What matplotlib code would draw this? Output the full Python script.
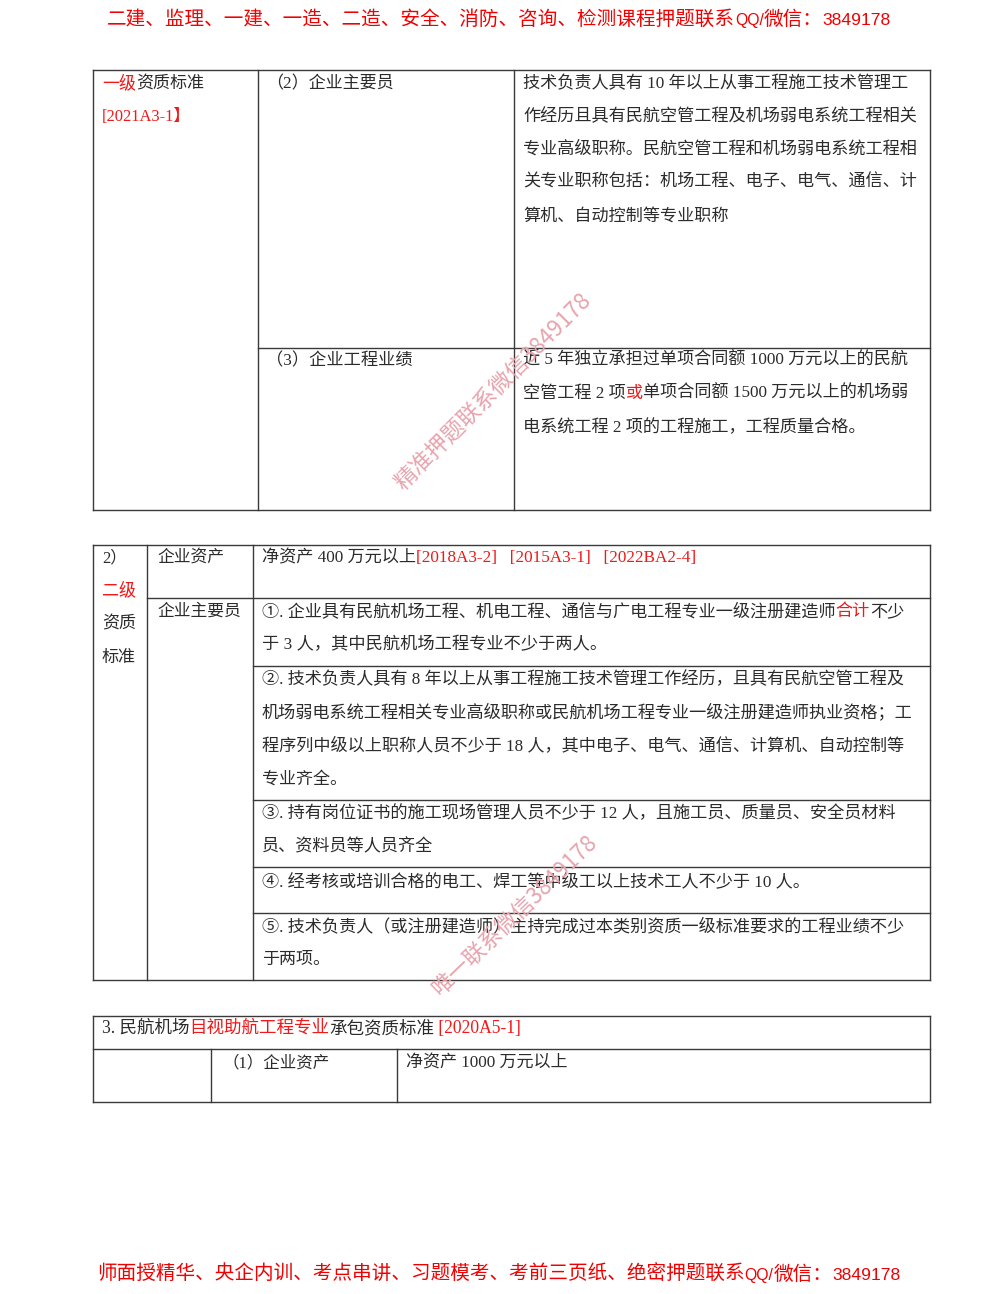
import matplotlib
matplotlib.use('Agg')
import matplotlib.pyplot as plt

FONT = ['Liberation Serif', 'Noto Sans CJK SC', 'DejaVu Sans']
SANS = ['Noto Sans CJK SC', 'DejaVu Sans']
LATIN = ['Liberation Sans', 'DejaVu Sans']
INK = '#2b2b2b'
RED = '#f01818'
WM = '#e8a3ad'

# page texts, k = black, r = red
header_parts = ['二建、监理、一建、一造、二造、安全、消防、咨询、检测课程押题联系', 'QQ/', '微信：', '3849178']
footer_parts = ['师面授精华、央企内训、考点串讲、习题模考、考前三页纸、绝密押题联系', 'QQ/', '微信：', '3849178']
watermark1 = '精准押题联系微信3849178'
watermark2 = '唯一联系微信3849178'

table1_lines = [
    [('一级', 'r'), ('资质标准', 'k')],
    [('[2021A3-1】', 'r')],
    [('（2）企业主要员', 'k')],
    [('技术负责人具有 10 年以上从事工程施工技术管理工', 'k')],
    [('作经历且具有民航空管工程及机场弱电系统工程相关', 'k')],
    [('专业高级职称。民航空管工程和机场弱电系统工程相', 'k')],
    [('关专业职称包括：机场工程、电子、电气、通信、计', 'k')],
    [('算机、自动控制等专业职称', 'k')],
    [('（3）企业工程业绩', 'k')],
    [('近 5 年独立承担过单项合同额 1000 万元以上的民航', 'k')],
    [('空管工程 2 项', 'k'), ('或', 'r'), ('单项合同额 1500 万元以上的机场弱', 'k')],
    [('电系统工程 2 项的工程施工，工程质量合格。', 'k')],
]
table2_lines = [
    [('2）', 'k')],
    [('二级', 'r')],
    [('资质', 'k')],
    [('标准', 'k')],
    [('企业资产', 'k')],
    [('企业主要员', 'k')],
    [('净资产 400 万元以上', 'k'), ('[2018A3-2]   [2015A3-1]   [2022BA2-4]', 'r')],
    [('①. 企业具有民航机场工程、机电工程、通信与广电工程专业一级注册建造师', 'k'), ('合计', 'r'), ('不少', 'k')],
    [('于 3 人，其中民航机场工程专业不少于两人。', 'k')],
    [('②. 技术负责人具有 8 年以上从事工程施工技术管理工作经历，且具有民航空管工程及', 'k')],
    [('机场弱电系统工程相关专业高级职称或民航机场工程专业一级注册建造师执业资格；工', 'k')],
    [('程序列中级以上职称人员不少于 18 人，其中电子、电气、通信、计算机、自动控制等', 'k')],
    [('专业齐全。', 'k')],
    [('③. 持有岗位证书的施工现场管理人员不少于 12 人，且施工员、质量员、安全员材料', 'k')],
    [('员、资料员等人员齐全', 'k')],
    [('④. 经考核或培训合格的电工、焊工等中级工以上技术工人不少于 10 人。', 'k')],
    [('⑤. 技术负责人（或注册建造师）主持完成过本类别资质一级标准要求的工程业绩不少', 'k')],
    [('于两项。', 'k')],
]
table3_lines = [
    [('3. 民航机场', 'k'), ('目视助航工程专业', 'r'), ('承包资质标准', 'k'), (' [2020A5-1]', 'r')],
    [('（1）企业资产', 'k')],
    [('净资产 1000 万元以上', 'k')],
]

# where each line goes: x start, y centre, x end (pixels on the page)
table1_pos = [(102, 82, 204), (102, 115, 190), (266, 82, 394), (523, 82, 908), (523, 115, 917),
              (523, 148, 917), (523, 181, 917), (523, 215, 728), (266, 359, 412), (523, 359, 908),
              (523, 392, 908), (523, 426, 866)]
table2_pos = [(102, 556, 120), (102, 589, 136), (102, 622, 136), (102, 656, 136), (157, 556, 224),
              (157, 610, 241), (262, 556, 698), (262, 610, 905), (262, 643, 606), (262, 678, 905),
              (262, 711, 914), (262, 744, 905), (262, 778, 347), (262, 812, 897), (262, 845, 433),
              (262, 880, 811), (262, 925, 905), (262, 958, 330)]
table3_pos = [(102, 1027, 522), (223, 1061, 330), (406, 1061, 568)]

fig = plt.figure(figsize=(10, 12.94), dpi=100)
ax = fig.add_axes([0, 0, 1, 1])
ax.set_xlim(0, 1000)
ax.set_ylim(1294, 0)
ax.axis('off')
renderer = fig.canvas.get_renderer()


def write_line(x, y, segs, x_end, size=12.25):
    # fit the line to its end position by nudging the font size
    items = []
    total = 0
    for text, col in segs:
        t = ax.text(x, y + 6, text, fontsize=size, family=FONT, va='baseline', ha='left',
                    color=RED if col == 'r' else INK, zorder=3)
        items.append(t)
        total += t.get_window_extent(renderer).width
    scale = (x_end - x) / total
    size2 = size * min(max(scale, 0.97), 1.04)
    pos = x
    for t in items:
        t.set_fontsize(size2)
        t.set_x(pos)
        pos += t.get_window_extent(renderer).width


def banner(x, y, parts):
    # chinese at full width, latin and digits narrower
    pos = x
    for text, fam, size in zip(parts, [SANS, LATIN, SANS, LATIN], [14.1, 11.3, 14.1, 12.6]):
        t = ax.text(pos, y, text, fontsize=size, family=fam, color='#f00000', va='baseline', ha='left')
        pos += t.get_window_extent(renderer).width


def hline(y, x0, x1):
    ax.plot([x0, x1], [y, y], color='#3a3a3a', lw=1.0, solid_capstyle='projecting', zorder=2)


def vline(x, y0, y1):
    ax.plot([x, x], [y0, y1], color='#3a3a3a', lw=1.0, solid_capstyle='projecting', zorder=2)


# table 1
for y in [70, 510]:
    hline(y, 93, 930)
for x in [93, 258, 514, 930]:
    vline(x, 70, 510)
hline(348, 258, 930)

# table 2
for y in [545, 980]:
    hline(y, 93, 930)
for x in [93, 147, 253, 930]:
    vline(x, 545, 980)
hline(598, 147, 930)
for y in [666, 800, 867, 913]:
    hline(y, 253, 930)

# table 3
for y in [1016, 1049, 1102]:
    hline(y, 93, 930)
for x in [93, 930]:
    vline(x, 1016, 1102)
for x in [211, 397]:
    vline(x, 1049, 1102)

for lines, positions in [(table1_lines, table1_pos), (table2_lines, table2_pos), (table3_lines, table3_pos)]:
    for segs, (x, y, x_end) in zip(lines, positions):
        write_line(x, y, segs, x_end)

# red header and footer
banner(107, 25, header_parts)
banner(97, 1280, footer_parts)

# diagonal watermarks
ax.text(494, 392, watermark1, fontsize=16.2, family=SANS, color=WM, rotation=45,
        ha='center', va='center', rotation_mode='anchor', zorder=4)
ax.text(514, 915, watermark2, fontsize=16.0, family=SANS, color=WM, rotation=44,
        ha='center', va='center', rotation_mode='anchor', zorder=4)

fig.savefig('out.png', dpi=100, facecolor='white')
